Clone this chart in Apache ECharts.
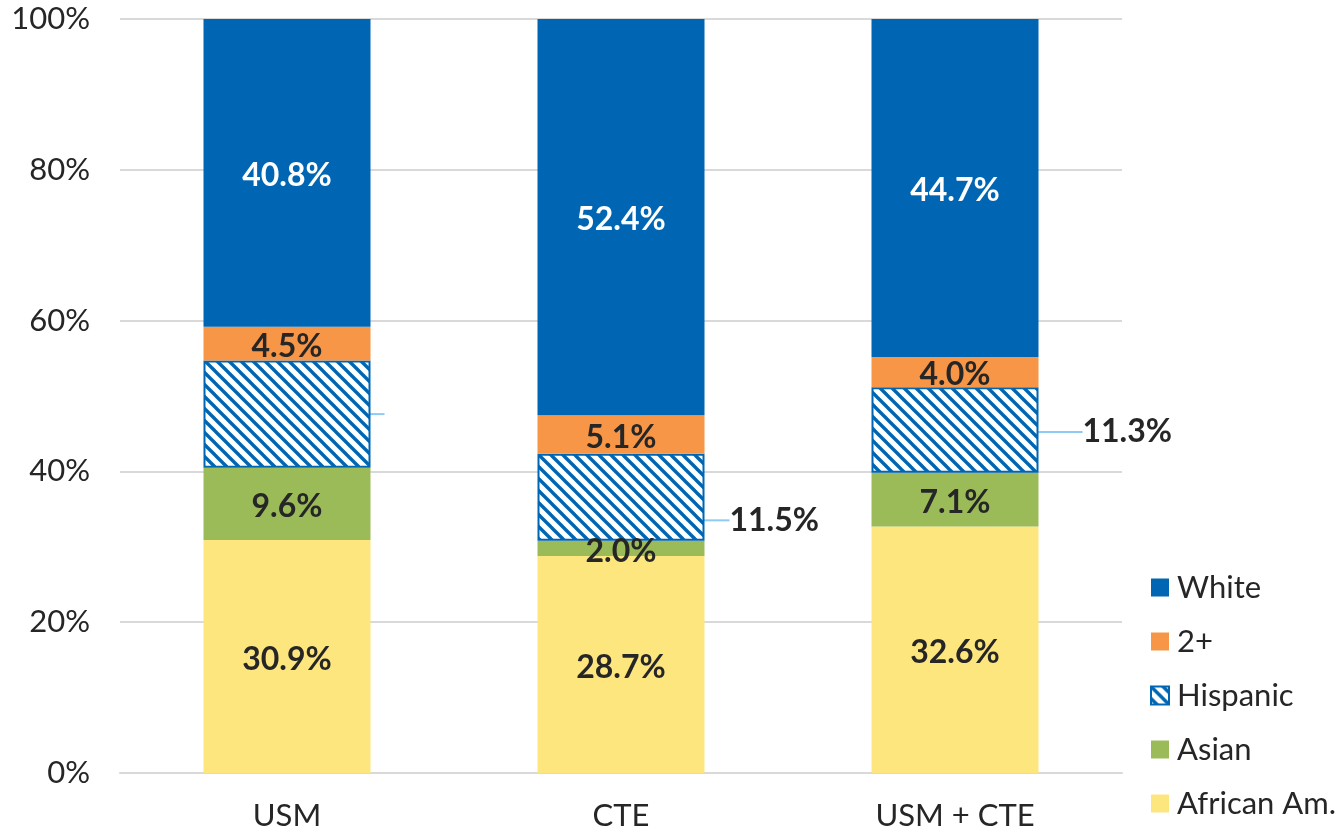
<!DOCTYPE html>
<html>
<head>
<meta charset="utf-8">
<script src="https://cdn.jsdelivr.net/npm/echarts@6/dist/echarts.min.js"></script>
<style>
html,body{margin:0;padding:0;background:#fff;}
#chart{width:1342px;height:832px;}
</style>
</head>
<body>
<div id="chart"></div>
<script>
const categories = ['USM', 'CTE', 'USM + CTE'];
const africanAm = [30.9, 28.7, 32.6];
const asian = [9.6, 2.0, 7.1];
const hispanic = [14.2, 11.5, 11.3];
const twoPlus = [4.5, 5.1, 4.0];
const white = [40.8, 52.4, 44.7];
const hispanicLabelShown = [false, true, true];
const yTicks = [0, 20, 40, 60, 80, 100];

const FONT = 'Lato, "Noto Sans", sans-serif';
const TXT = '#262626';

// 100% stacked: each column is normalised to its own total, labels show raw values
const raw = [africanAm, asian, hispanic, twoPlus, white];
const totals = categories.map((_, i) => raw.reduce((s, a) => s + a[i], 0));
const norm = arr => arr.map((v, i) => ({value: v / totals[i] * 100, raw: v}));

// hatch pattern
const pc = document.createElement('canvas');
pc.width = 12; pc.height = 12;
const g = pc.getContext('2d');
g.fillStyle = '#ffffff'; g.fillRect(0, 0, 12, 12);
g.strokeStyle = '#0066b3'; g.lineWidth = 3.4;
for (let k = -12; k <= 12; k += 12) {
  g.beginPath(); g.moveTo(k - 2, -2); g.lineTo(k + 14, 14); g.stroke();
}

const chart = echarts.init(document.getElementById('chart'), null, {renderer: 'canvas'});

const fmt = p => p.data.raw.toFixed(1) + '%';
const lblIn = (color) => ({
  show: true, position: 'inside', offset: [0, 3], color: color, fontFamily: FONT,
  fontWeight: 'bold', fontSize: 32, formatter: fmt
});

function seriesOf(name, data, color, lblColor) {
  return {
    name, type: 'bar', stack: 'total', data: norm(data), barWidth: '50%',
    itemStyle: {color}, label: lblIn(lblColor), emphasis: {disabled: true}
  };
}

chart.setOption({
  animation: false,
  grid: {left: 120, right: 220, top: 19, bottom: 59},
  legend: {
    orient: 'vertical', left: 1150, top: 572, padding: 0,
    data: ['White', '2+', 'Hispanic', 'Asian', 'African Am.'],
    itemWidth: 18, itemHeight: 18, itemGap: 23,
    icon: 'rect',
    textStyle: {fontFamily: FONT, fontSize: 31, color: TXT, lineHeight: 31, padding: [0, 0, 0, 3]}
  },
  xAxis: {
    type: 'category', data: categories,
    axisLine: {show: true, lineStyle: {color: '#d9d9d9', width: 2}},
    axisTick: {show: false},
    axisLabel: {fontFamily: FONT, fontSize: 31, color: TXT, margin: 27}
  },
  yAxis: {
    type: 'value', min: 0, max: 100, interval: 20,
    axisLine: {show: false}, axisTick: {show: false},
    splitLine: {lineStyle: {color: '#d9d9d9', width: 2}},
    axisLabel: {fontFamily: FONT, fontSize: 31, color: TXT, margin: 30,
      formatter: v => yTicks.includes(v) ? v + '%' : ''}
  },
  series: [
    seriesOf('African Am.', africanAm, '#fee67f', TXT),
    seriesOf('Asian', asian, '#9bbb59', TXT),
    {
      name: 'Hispanic', type: 'bar', stack: 'total', data: norm(hispanic), barWidth: '50%',
      itemStyle: {color: {image: pc, repeat: 'repeat'}, borderColor: '#0066b3', borderWidth: 2},
      emphasis: {disabled: true},
      label: {
        show: true, position: 'right', distance: 44, color: TXT, fontFamily: FONT,
        fontWeight: 'bold', fontSize: 32,
        formatter: p => hispanicLabelShown[p.dataIndex] ? fmt(p) : ''
      },
      labelLine: {show: true, lineStyle: {color: '#8ecaf3', width: 2}},
      labelLayout: function (p) {
        if (p.dataIndex === 0) return {dx: -30, dy: 0};
        if (p.dataIndex === 1) return {dx: -19, dy: 23};
        return {dx: 0, dy: 2};
      }
    },
    seriesOf('2+', twoPlus, '#f79646', TXT),
    seriesOf('White', white, '#0066b3', '#ffffff')
  ]
});
</script>
</body>
</html>
